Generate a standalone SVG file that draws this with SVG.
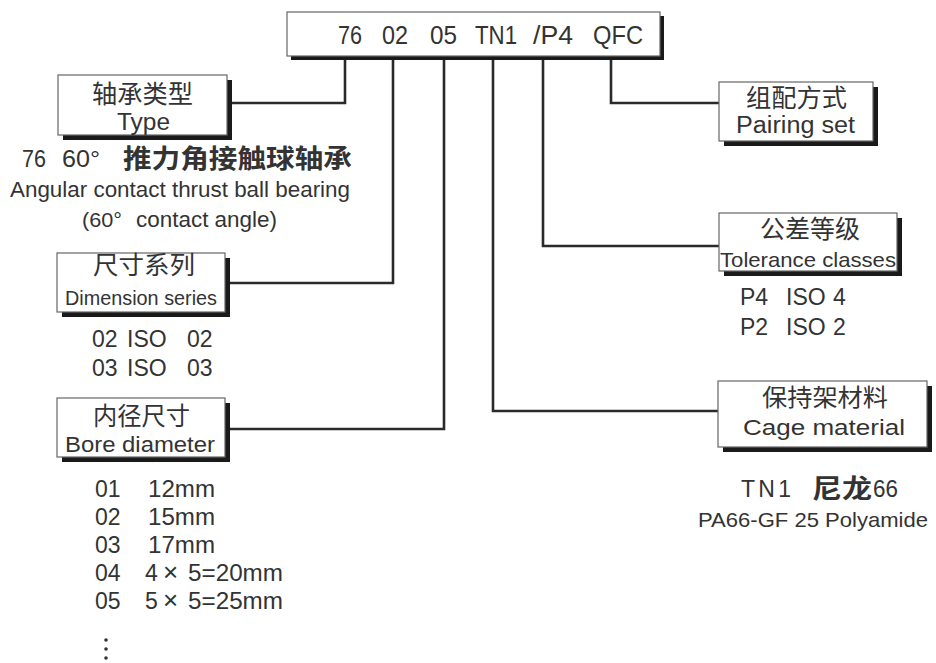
<svg xmlns="http://www.w3.org/2000/svg" width="936" height="663" viewBox="0 0 936 663">
<style>
.sh{fill:#1a1a1a}
.bx{fill:#fff;stroke:#666;stroke-width:1.2}
.t{font-family:"Liberation Sans","Noto Sans CJK SC",sans-serif;fill:#333;font-size:21px}
.cn{font-family:"Noto Sans CJK SC","Liberation Sans",sans-serif;fill:#333}
.ln{fill:none;stroke:#2a2a2a;stroke-width:2.6;stroke-linejoin:miter}
</style>
<rect width="936" height="663" fill="#fff"/>
<g id="connectors">
<path class="ln" d="M345 56 V103 H230"/>
<path class="ln" d="M393 56 V283 H228"/>
<path class="ln" d="M444 56 V429 H228"/>
<path class="ln" d="M493 56 V411 H718"/>
<path class="ln" d="M543 56 V246 H719"/>
<path class="ln" d="M611 56 V103 H719"/>
</g>
<g id="code">
<rect class="sh" x="291" y="16" width="373" height="44"/>
<rect class="bx" x="287" y="12" width="373" height="44"/>
<g class="t" style="font-size:25px">
<text x="338" y="44" textLength="24" lengthAdjust="spacingAndGlyphs">76</text>
<text x="382" y="44" textLength="26" lengthAdjust="spacingAndGlyphs">02</text>
<text x="430" y="44" textLength="27" lengthAdjust="spacingAndGlyphs">05</text>
<text x="475" y="44" textLength="42" lengthAdjust="spacingAndGlyphs">TN1</text>
<text x="533" y="44" textLength="40" lengthAdjust="spacingAndGlyphs">/P4</text>
<text x="593" y="44" textLength="50" lengthAdjust="spacingAndGlyphs">QFC</text>
</g>
</g>
<g id="type">
<rect class="sh" x="63" y="80" width="169" height="60"/>
<rect class="bx" x="58" y="75" width="169" height="60"/>
<text class="t cn" x="92" y="103" style="font-size:25px" textLength="101" lengthAdjust="spacingAndGlyphs">轴承类型</text>
<text class="t" x="117" y="130" style="font-size:23px" textLength="53" lengthAdjust="spacingAndGlyphs">Type</text>
<text class="t" x="22" y="167" style="font-size:23px" textLength="24" lengthAdjust="spacingAndGlyphs">76</text>
<text class="t" x="62" y="167" style="font-size:23px" textLength="38" lengthAdjust="spacingAndGlyphs">60°</text>
<text class="t cn" x="123" y="168" style="font-size:26px" font-weight="bold" textLength="229" lengthAdjust="spacingAndGlyphs">推力角接触球轴承</text>
<text class="t" x="10" y="197" style="font-size:22px" textLength="340" lengthAdjust="spacingAndGlyphs">Angular contact thrust ball bearing</text>
<text class="t" x="82" y="227" style="font-size:21px" textLength="40" lengthAdjust="spacingAndGlyphs">(60°</text>
<text class="t" x="136" y="227" style="font-size:22px" textLength="141" lengthAdjust="spacingAndGlyphs">contact angle)</text>
</g>
<g id="dimension">
<rect class="sh" x="62" y="258" width="168" height="59"/>
<rect class="bx" x="57" y="253" width="168" height="59"/>
<text class="t cn" x="93" y="274" style="font-size:25px" textLength="102" lengthAdjust="spacingAndGlyphs">尺寸系列</text>
<text class="t" x="65" y="305" style="font-size:21px" textLength="152" lengthAdjust="spacingAndGlyphs">Dimension series</text>
<g class="t" style="font-size:23px">
<text x="92" y="347">02</text>
<text x="127" y="347">ISO</text>
<text x="187" y="347">02</text>
<text x="92" y="376">03</text>
<text x="127" y="376">ISO</text>
<text x="187" y="376">03</text>
</g>
</g>
<g id="bore">
<rect class="sh" x="62" y="403" width="168" height="59"/>
<rect class="bx" x="57" y="398" width="168" height="59"/>
<text class="t cn" x="93" y="425" style="font-size:25px" textLength="97" lengthAdjust="spacingAndGlyphs">内径尺寸</text>
<text class="t" x="65" y="452" style="font-size:22px" textLength="150" lengthAdjust="spacingAndGlyphs">Bore diameter</text>
<g class="t" style="font-size:23px">
<text x="95" y="497">01</text><text x="148" y="497" textLength="67" lengthAdjust="spacingAndGlyphs">12mm</text>
<text x="95" y="525">02</text><text x="148" y="525" textLength="67" lengthAdjust="spacingAndGlyphs">15mm</text>
<text x="95" y="553">03</text><text x="148" y="553" textLength="67" lengthAdjust="spacingAndGlyphs">17mm</text>
<text x="95" y="581">04</text><text x="145" y="581">4</text><text x="163" y="581" style="font-size:26px">×</text><text x="188" y="581" textLength="95" lengthAdjust="spacingAndGlyphs">5=20mm</text>
<text x="95" y="609">05</text><text x="145" y="609">5</text><text x="163" y="609" style="font-size:26px">×</text><text x="188" y="609" textLength="95" lengthAdjust="spacingAndGlyphs">5=25mm</text>
</g>
<circle cx="106" cy="640" r="1.8" fill="#333"/>
<circle cx="106" cy="649" r="1.8" fill="#333"/>
<circle cx="106" cy="658" r="1.8" fill="#333"/>
</g>
<g id="pairing">
<rect class="sh" x="724" y="87" width="154" height="59"/>
<rect class="bx" x="719" y="82" width="154" height="59"/>
<text class="t cn" x="746" y="107" style="font-size:25px" textLength="101" lengthAdjust="spacingAndGlyphs">组配方式</text>
<text class="t" x="736" y="133" style="font-size:23px" textLength="119" lengthAdjust="spacingAndGlyphs">Pairing set</text>
</g>
<g id="tolerance">
<rect class="sh" x="724" y="218" width="178" height="58"/>
<rect class="bx" x="719" y="213" width="178" height="58"/>
<text class="t cn" x="760" y="238" style="font-size:25px" textLength="100" lengthAdjust="spacingAndGlyphs">公差等级</text>
<text class="t" x="720" y="267" style="font-size:21px" textLength="176" lengthAdjust="spacingAndGlyphs">Tolerance classes</text>
<g class="t" style="font-size:23px">
<text x="740" y="305">P4</text><text x="786" y="305">ISO</text><text x="833" y="305">4</text>
<text x="740" y="335">P2</text><text x="786" y="335">ISO</text><text x="833" y="335">2</text>
</g>
</g>
<g id="cage">
<rect class="sh" x="723" y="386" width="209" height="66"/>
<rect class="bx" x="718" y="381" width="209" height="66"/>
<text class="t cn" x="762" y="406" style="font-size:24px" textLength="126" lengthAdjust="spacingAndGlyphs">保持架材料</text>
<text class="t" x="743" y="435" style="font-size:22px" textLength="162" lengthAdjust="spacingAndGlyphs">Cage material</text>
<text class="t" x="741" y="497" style="font-size:23px" textLength="50">TN1</text>
<text class="t cn" x="812" y="498" style="font-size:26px" font-weight="bold" textLength="60" lengthAdjust="spacingAndGlyphs">尼龙</text>
<text class="t" x="873" y="497" style="font-size:23px" textLength="25" lengthAdjust="spacingAndGlyphs">66</text>
<text class="t" x="698" y="527" style="font-size:21px" textLength="230" lengthAdjust="spacingAndGlyphs">PA66-GF 25 Polyamide</text>
</g>
</svg>
